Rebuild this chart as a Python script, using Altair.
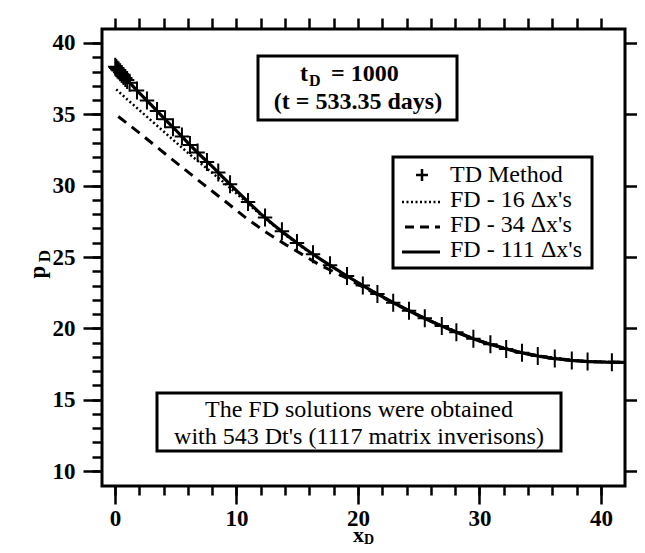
import altair as alt
import pandas as pd

FONT = "Liberation Serif"

# ---- data ----
td_x = [0.02, 0.1, 0.2, 0.3, 0.42, 0.55, 0.7, 0.85, 1.0, 1.2, 1.81, 2.63, 3.46, 4.12, 4.77,
        5.51, 6.17, 6.8, 7.57, 8.5, 9.47, 10.95, 12.35, 13.74, 14.98, 16.3, 17.7, 19.1, 20.4,
        21.6, 22.9, 24.2, 25.5, 26.9, 28.1, 29.5, 30.9, 32.2, 33.5, 34.8, 36.2, 37.6, 38.9, 40.9]
td_p = [38.33, 38.25, 38.15, 38.07, 37.95, 37.83, 37.69, 37.55, 37.4, 37.22, 36.67, 35.96,
        35.24, 34.65, 34.1, 33.45, 32.85, 32.32, 31.66, 30.93, 30.1, 28.86, 27.77, 26.8,
        25.99, 25.2, 24.42, 23.67, 23.0, 22.41, 21.8, 21.23, 20.7, 20.16, 19.72, 19.27,
        18.88, 18.56, 18.29, 18.06, 17.88, 17.75, 17.67, 17.62]

fd111_x = [0, 1, 2, 3, 4, 5, 6, 7, 8, 9, 10, 11, 12, 13, 14, 15, 16, 17, 18, 19, 20, 21,
           22, 23, 24, 25, 26, 27, 28, 29, 30, 31, 32, 33, 34, 35, 36, 37, 38, 39, 40, 41, 41.9]
fd111_p = [38.35, 37.4, 36.5, 35.65, 34.75, 33.9, 33.0, 32.15, 31.35, 30.5, 29.65, 28.82,
           28.02, 27.3, 26.62, 25.98, 25.37, 24.8, 24.25, 23.72, 23.2, 22.7, 22.22, 21.76,
           21.32, 20.9, 20.5, 20.12, 19.76, 19.42, 19.12, 18.85, 18.6, 18.38, 18.19, 18.03,
           17.9, 17.8, 17.72, 17.67, 17.64, 17.62, 17.62]

fd34_x = [0.27, 2, 4.25, 7, 9, 10.84, 12.5, 14.13, 16.9, 19, 21, 23, 25, 27, 30, 33, 36, 39, 41.9]
fd34_p = [34.85, 33.7, 32.15, 30.28, 28.95, 27.7, 26.7, 25.83, 24.42, 23.55, 22.62, 21.74,
          20.89, 20.12, 19.12, 18.38, 17.9, 17.67, 17.62]

fd16_x = [0.1, 1, 2, 3, 4, 5, 6, 7, 8, 9, 10, 11, 12, 14, 16, 18, 20, 23, 26, 30, 34, 38, 41.9]
fd16_p = [36.75, 36.05, 35.3, 34.55, 33.8, 33.05, 32.3, 31.6, 30.9, 30.2, 29.45, 28.7,
          27.95, 26.55, 25.33, 24.25, 23.2, 21.76, 20.5, 19.12, 18.19, 17.72, 17.62]

legend_labels = ["TD Method", "FD - 16 \u0394x's", "FD - 34 \u0394x's", "FD - 111 \u0394x's"]
x_major = [0, 10, 20, 30, 40]
x_minor = list(range(0, 41, 2))
y_major = [10, 15, 20, 25, 30, 35, 40]
y_minor = list(range(10, 41))

title_parts = ["t", "D", "= 1000", "(t =  533.35 days)"]
note_lines = ["The FD solutions were obtained", "with 543 Dt's (1117 matrix inverisons)"]

XDOM = [-1.07, 41.98]
YDOM = [8.95, 40.98]
W, H = 523, 457
CROSS = "M0,-1L0,1M-0.8,0L0.8,0"

xs = alt.Scale(domain=XDOM, nice=False, zero=False)
ys = alt.Scale(domain=YDOM, nice=False, zero=False)

common = dict(domain=False, grid=False, title=None, tickColor="black", tickWidth=2.5,
              labelColor="black", labelFont=FONT, labelFontSize=23, labelFontWeight="bold")

ax_bottom_major = alt.Axis(orient="bottom", values=x_major, tickSize=18, labelPadding=3,
                           format="d", labelFlush=False, labelOverlap=False, **common)
ax_bottom_minor = alt.Axis(orient="bottom", values=x_minor, tickSize=9, labels=False, **common)
ax_top = alt.Axis(orient="top", values=x_minor, tickSize=11, labels=False, **common)
ax_left_major = alt.Axis(orient="left", values=y_major, tickSize=19, labelPadding=8,
                         format="d", labelFlush=False, labelOverlap=False, **common)
ax_left_minor = alt.Axis(orient="left", values=y_minor, tickSize=10, labels=False, **common)
ax_right = alt.Axis(orient="right", values=y_major, tickSize=18, labels=False, **common)


def X(axis):
    return alt.X("x:Q", scale=xs, axis=axis)


def Y(axis):
    return alt.Y("p:Q", scale=ys, axis=axis)


df_td = pd.DataFrame({"x": td_x, "p": td_p})
df111 = pd.DataFrame({"x": fd111_x, "p": fd111_p})
df34 = pd.DataFrame({"x": fd34_x, "p": fd34_p})
df16 = pd.DataFrame({"x": fd16_x, "p": fd16_p})
one = pd.DataFrame({"a": [0]})

dotted = alt.Chart(df16).mark_line(color="black", strokeWidth=2.5, strokeDash=[2, 2.5]).encode(
    x=X(ax_top), y=Y(ax_right))
dashed = alt.Chart(df34).mark_line(color="black", strokeWidth=3, strokeDash=[10, 7]).encode(
    x=X(ax_bottom_minor), y=Y(ax_left_minor))
solid = alt.Chart(df111).mark_line(color="black", strokeWidth=3.2).encode(
    x=X(ax_bottom_major), y=Y(ax_left_major))
td = alt.Chart(df_td).mark_point(shape=CROSS, size=324, filled=False, color="black",
                                  strokeWidth=2, opacity=1).encode(x=X(None), y=Y(None))


def box(x1, x2, y1, y2):
    return alt.Chart(one).mark_rect(fill="white", stroke="black", strokeWidth=3).encode(
        x=alt.value(x1), x2=alt.value(x2), y=alt.value(y1), y2=alt.value(y2))


def txt(s, x, y, size=24, bold=False, align="left", angle=0):
    kw = dict(text=s, font=FONT, fontSize=size, color="black", align=align,
              baseline="alphabetic", fontWeight="bold" if bold else "normal")
    if angle:
        kw["angle"] = angle
    return alt.Chart(one).mark_text(**kw).encode(x=alt.value(x), y=alt.value(y))


layers = [dotted, dashed, solid, td]

# title box
layers.append(box(156, 355, 27, 91))
layers += [
    txt(title_parts[0], 206, 52, 24, True, "right"),
    txt(title_parts[1], 207, 56.5, 16, True),
    txt(title_parts[2], 229, 52, 24, True),
    txt(title_parts[3], 256, 80, 24, True, "center"),
]

# legend
layers.append(box(291, 490, 128, 239))
layers.append(alt.Chart(one).mark_point(shape="M0,-1L0,1M-1,0L1,0", size=144, filled=False,
                                         color="black", strokeWidth=2.5, opacity=1).encode(
    x=alt.value(320), y=alt.value(146)))
layers.append(alt.Chart(one).mark_rule(color="black", strokeWidth=2.5, strokeDash=[2, 2.5]).encode(
    x=alt.value(300), x2=alt.value(338), y=alt.value(173)))
layers.append(alt.Chart(one).mark_rule(color="black", strokeWidth=3, strokeDash=[9, 6]).encode(
    x=alt.value(303), x2=alt.value(338), y=alt.value(198)))
layers.append(alt.Chart(one).mark_rule(color="black", strokeWidth=3).encode(
    x=alt.value(300), x2=alt.value(338), y=alt.value(223)))
for i, lab in enumerate(legend_labels):
    layers.append(txt(lab, 348, 153 + 25 * i, 24))

# note box
layers.append(box(55, 459, 364, 422))
layers.append(txt(note_lines[0], 257, 388, 24, False, "center"))
layers.append(txt(note_lines[1], 257, 414.5, 24, False, "center"))

# axis titles
layers.append(txt("p", -57, 243, 23, True, "center", 270))
layers.append(txt("D", -52, 227, 17, True, "center", 270))
layers.append(txt("x", 262, 512.5, 22, True, "right"))
layers.append(txt("D", 262, 515, 14, True))

chart = alt.layer(*layers).resolve_axis(x="independent", y="independent").properties(
    width=W, height=H,
    padding={"left": 94, "top": 21, "right": 12, "bottom": 59},
    autosize=alt.AutoSizeParams(type="none"),
    background="white",
).configure_view(stroke="black", strokeWidth=3)

chart.save("out.html", embed_options={"renderer": "svg", "actions": False})
